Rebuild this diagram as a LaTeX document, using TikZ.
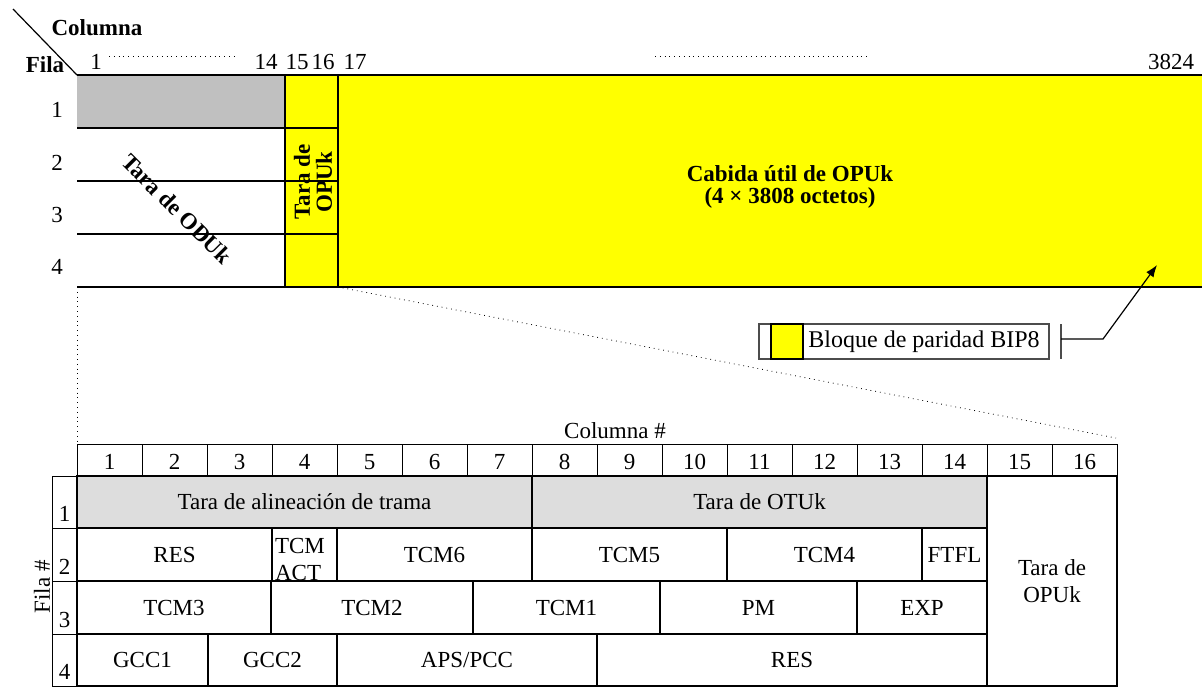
\documentclass[tikz,border=0pt]{standalone}
\usepackage{fontspec}
\setmainfont{Liberation Serif}
\usetikzlibrary{arrows.meta,positioning,calc}
\definecolor{amarillo}{HTML}{FFFF00}
\definecolor{grisodu}{HTML}{C0C0C0}
\definecolor{grisotu}{HTML}{DDDDDD}
\tikzset{
  celda/.style={draw, line width=1.3pt},
  celdafina/.style={draw, line width=0.5pt},
  linea/.style={draw, line width=0.65pt},
  texto/.style={font=\fontsize{11.5}{13.5}\selectfont, inner sep=0pt, align=center},
  negrita/.style={font=\fontsize{11.5}{11}\selectfont\bfseries, inner sep=0pt, align=center},
  punteado/.style={dotted, line width=0.4pt},
  flecha/.style={-{Latex[length=6pt,width=4.5pt]}, line width=0.6pt},
}
% caja de la tabla ampliada: [relleno]{nombre}{x1}{y1}{x2}{y2}{texto}
\newcommand{\caja}[7][white]{%
  \draw[celda, fill=#1] (#3,#4) rectangle (#5,#6);
  \node[texto] (#2) at ({(#3+#5)/2},{(#4+#6)/2}) {#7};}

\begin{document}
\begin{tikzpicture}[x=0.5pt, y=-0.5pt]
  \useasboundingbox (0,0) rectangle (1202,687);

  % trama OTUk
  \fill[grisodu] (77,75) rectangle (285,128);
  \fill[amarillo] (285,75) rectangle (1202,287);
  \draw[linea] (77,75) -- (1202,75);
  \draw[linea] (77,287) -- (1202,287);
  \draw[linea] (285,75) -- (285,287);
  \draw[linea] (338,75) -- (338,287);
  \foreach \y in {128,181,234}
    \draw[linea] (77,\y) -- (338,\y);

  \draw[line width=0.6pt] (13,9) -- (77,75);
  \node[negrita] (columna) at (97,28) {Columna};
  \node[negrita] (fila) at (45,65) {Fila};

  \node[texto] (c1) at (96,62) {1};
  \node[texto] (c14) at (266,62) {14};
  \node[texto] (c15) at (297,62) {15};
  \node[texto] (c16) at (323,62) {16};
  \node[texto] (c17) at (355,62) {17};
  \node[texto] (c3824) at (1171,62) {3824};
  \draw[punteado] (109,56) -- (238,56);
  \draw[punteado] (655,56) -- (868,56);

  \foreach \f/\y in {1/110,2/163,3/215,4/267}
    \node[texto] (f\f) at (57,\y) {\f};

  \node[negrita, rotate=90] (opuk) at (313,182) {Tara de\\OPUk};
  \node[negrita, rotate=-45] (oduk) at (177,209) {Tara de ODUk};
  \node[negrita] (cabida) at (790,187) {Cabida útil de OPUk\\(4 × 3808 octetos)};

  % leyenda
  \draw[linea, draw=black!70] (759,324) rectangle (1049,359);
  \draw[linea, fill=amarillo] (771,324) rectangle (803,359);
  \node[texto, font=\fontsize{12}{14}\selectfont, anchor=west] (bip) at (808,342) {Bloque de paridad BIP8};
  \draw[linea, draw=black!70] (1061,324) -- (1061,359);
  \coordinate (salida) at (1061,339);
  \coordinate (codo) at (1103,339);
  \coordinate (punta) at (1157,265);
  \draw[flecha] (salida) -- (codo) -- (punta);

  % ampliacion
  \draw[punteado] (77,287) -- (77,444);
  \draw[punteado] (338,287) -- (1116,438);
  \node[texto] (columnanum) at (615,431) {Columna \#};
  \foreach \c in {1,...,16} {
    \draw[celdafina] ({77+65*(\c-1)},444) rectangle ({77+65*\c},476);
    \node[texto] (col\c) at ({77+65*(\c-0.5)},462) {\c};
  }
  \foreach \f/\a/\b in {1/476/528,2/528/581,3/581/634,4/634/686} {
    \draw[celdafina] (52,\a) rectangle (77,\b);
    \node[texto, anchor=base] (fil\f) at (64.5,\b-7) {\f};
  }
  \node[texto, rotate=90] (filanum) at (42,587) {Fila \#};

  \caja[grisotu]{fas}{77}{476}{532}{528}{Tara de alineación de trama}
  \caja[grisotu]{otu}{532}{476}{987}{528}{Tara de OTUk}
  \caja{res1}{77}{528}{272}{581}{RES}
  \caja{act}{272}{528}{337}{581}{}
  \node[texto, align=left] (tcmact) at (300,559) {TCM\\ACT};
  \caja{tcm6}{337}{528}{532}{581}{TCM6}
  \caja{tcm5}{532}{528}{727}{581}{TCM5}
  \caja{tcm4}{727}{528}{922}{581}{TCM4}
  \caja{ftfl}{922}{528}{987}{581}{FTFL}
  \caja{tcm3}{77}{581}{271}{634}{TCM3}
  \caja{tcm2}{271}{581}{473}{634}{TCM2}
  \caja{tcm1}{473}{581}{660}{634}{TCM1}
  \caja{pm}{660}{581}{857}{634}{PM}
  \caja{exp}{857}{581}{987}{634}{EXP}
  \caja{gcc1}{77}{634}{208}{686}{GCC1}
  \caja{gcc2}{208}{634}{337}{686}{GCC2}
  \caja{aps}{337}{634}{597}{686}{APS/PCC}
  \caja{res2}{597}{634}{987}{686}{RES}
  \caja{opu}{987}{476}{1117}{686}{Tara de\\OPUk}
\end{tikzpicture}
\end{document}
